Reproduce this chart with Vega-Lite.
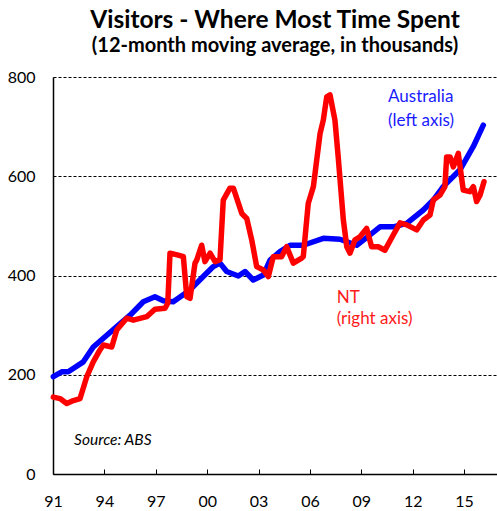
{
  "$schema": "https://vega.github.io/schema/vega-lite/v6.json",
  "width": 444,
  "height": 397,
  "autosize": "none",
  "padding": {"left": 53, "top": 77, "right": 0, "bottom": 37},
  "background": "white",
  "config": {"view": {"stroke": null}, "font": "Lato"},
  "title": {
    "text": "Visitors - Where Most Time Spent",
    "subtitle": "(12-month moving average, in thousands)",
    "font": "Lato", "fontSize": 24.5, "fontWeight": "bold", "color": "black",
    "subtitleFont": "Lato", "subtitleFontSize": 20, "subtitleFontWeight": "bold", "subtitleColor": "black",
    "anchor": "middle", "offset": 12, "subtitlePadding": 3
  },
  "layer": [
    {
      "data": {"values": [
        {"t": 1991.02, "series": "Australia", "v": 196},
        {"t": 1991.51, "series": "Australia", "v": 206},
        {"t": 1991.89, "series": "Australia", "v": 206},
        {"t": 1992.77, "series": "Australia", "v": 226},
        {"t": 1993.35, "series": "Australia", "v": 256},
        {"t": 1994.72, "series": "Australia", "v": 297},
        {"t": 1995.5, "series": "Australia", "v": 320},
        {"t": 1996.27, "series": "Australia", "v": 347},
        {"t": 1996.95, "series": "Australia", "v": 357},
        {"t": 1997.44, "series": "Australia", "v": 349},
        {"t": 1998.02, "series": "Australia", "v": 347},
        {"t": 1999.0, "series": "Australia", "v": 371},
        {"t": 1999.77, "series": "Australia", "v": 398},
        {"t": 2000.36, "series": "Australia", "v": 418},
        {"t": 2000.75, "series": "Australia", "v": 425},
        {"t": 2001.14, "series": "Australia", "v": 408},
        {"t": 2001.82, "series": "Australia", "v": 399},
        {"t": 2002.21, "series": "Australia", "v": 408},
        {"t": 2002.69, "series": "Australia", "v": 391},
        {"t": 2003.28, "series": "Australia", "v": 401},
        {"t": 2003.67, "series": "Australia", "v": 431},
        {"t": 2004.25, "series": "Australia", "v": 448},
        {"t": 2004.84, "series": "Australia", "v": 461},
        {"t": 2005.61, "series": "Australia", "v": 461},
        {"t": 2006.78, "series": "Australia", "v": 475},
        {"t": 2007.75, "series": "Australia", "v": 473},
        {"t": 2008.73, "series": "Australia", "v": 461},
        {"t": 2009.51, "series": "Australia", "v": 482},
        {"t": 2010.09, "series": "Australia", "v": 498},
        {"t": 2010.87, "series": "Australia", "v": 498},
        {"t": 2011.65, "series": "Australia", "v": 505},
        {"t": 2012.62, "series": "Australia", "v": 532},
        {"t": 2013.2, "series": "Australia", "v": 552},
        {"t": 2013.78, "series": "Australia", "v": 579},
        {"t": 2014.76, "series": "Australia", "v": 613},
        {"t": 2015.54, "series": "Australia", "v": 660},
        {"t": 2016.12, "series": "Australia", "v": 703},
        {"t": 1991.02, "series": "NT", "v": 155},
        {"t": 1991.41, "series": "NT", "v": 152},
        {"t": 1991.8, "series": "NT", "v": 142},
        {"t": 1992.19, "series": "NT", "v": 148},
        {"t": 1992.58, "series": "NT", "v": 152},
        {"t": 1992.97, "series": "NT", "v": 196},
        {"t": 1993.35, "series": "NT", "v": 226},
        {"t": 1993.74, "series": "NT", "v": 250},
        {"t": 1993.94, "series": "NT", "v": 260},
        {"t": 1994.43, "series": "NT", "v": 256},
        {"t": 1994.72, "series": "NT", "v": 290},
        {"t": 1995.3, "series": "NT", "v": 314},
        {"t": 1995.69, "series": "NT", "v": 310},
        {"t": 1996.47, "series": "NT", "v": 317},
        {"t": 1996.95, "series": "NT", "v": 332},
        {"t": 1997.54, "series": "NT", "v": 334},
        {"t": 1997.7, "series": "NT", "v": 344},
        {"t": 1997.83, "series": "NT", "v": 445},
        {"t": 1998.31, "series": "NT", "v": 441},
        {"t": 1998.61, "series": "NT", "v": 438},
        {"t": 1998.81, "series": "NT", "v": 357},
        {"t": 1999.0, "series": "NT", "v": 354},
        {"t": 1999.29, "series": "NT", "v": 425},
        {"t": 1999.39, "series": "NT", "v": 431},
        {"t": 1999.68, "series": "NT", "v": 461},
        {"t": 1999.87, "series": "NT", "v": 428},
        {"t": 2000.17, "series": "NT", "v": 445},
        {"t": 2000.46, "series": "NT", "v": 428},
        {"t": 2000.75, "series": "NT", "v": 432},
        {"t": 2000.94, "series": "NT", "v": 552},
        {"t": 2001.33, "series": "NT", "v": 576},
        {"t": 2001.53, "series": "NT", "v": 576},
        {"t": 2002.02, "series": "NT", "v": 525},
        {"t": 2002.31, "series": "NT", "v": 515},
        {"t": 2002.6, "series": "NT", "v": 472},
        {"t": 2002.89, "series": "NT", "v": 418},
        {"t": 2003.28, "series": "NT", "v": 411},
        {"t": 2003.57, "series": "NT", "v": 398},
        {"t": 2003.86, "series": "NT", "v": 438},
        {"t": 2004.35, "series": "NT", "v": 438},
        {"t": 2004.64, "series": "NT", "v": 458},
        {"t": 2005.03, "series": "NT", "v": 425},
        {"t": 2005.52, "series": "NT", "v": 435},
        {"t": 2005.61, "series": "NT", "v": 438},
        {"t": 2005.9, "series": "NT", "v": 545},
        {"t": 2006.2, "series": "NT", "v": 579},
        {"t": 2006.59, "series": "NT", "v": 686},
        {"t": 2006.78, "series": "NT", "v": 713},
        {"t": 2006.98, "series": "NT", "v": 760},
        {"t": 2007.17, "series": "NT", "v": 764},
        {"t": 2007.46, "series": "NT", "v": 713},
        {"t": 2007.65, "series": "NT", "v": 639},
        {"t": 2007.95, "series": "NT", "v": 512},
        {"t": 2008.15, "series": "NT", "v": 458},
        {"t": 2008.34, "series": "NT", "v": 445},
        {"t": 2008.63, "series": "NT", "v": 472},
        {"t": 2008.92, "series": "NT", "v": 478},
        {"t": 2009.31, "series": "NT", "v": 495},
        {"t": 2009.6, "series": "NT", "v": 458},
        {"t": 2009.99, "series": "NT", "v": 458},
        {"t": 2010.38, "series": "NT", "v": 451},
        {"t": 2010.87, "series": "NT", "v": 482},
        {"t": 2011.26, "series": "NT", "v": 506},
        {"t": 2011.65, "series": "NT", "v": 502},
        {"t": 2012.23, "series": "NT", "v": 492},
        {"t": 2012.62, "series": "NT", "v": 512},
        {"t": 2013.01, "series": "NT", "v": 522},
        {"t": 2013.2, "series": "NT", "v": 552},
        {"t": 2013.59, "series": "NT", "v": 562},
        {"t": 2013.88, "series": "NT", "v": 579},
        {"t": 2013.98, "series": "NT", "v": 639},
        {"t": 2014.18, "series": "NT", "v": 639},
        {"t": 2014.37, "series": "NT", "v": 619},
        {"t": 2014.66, "series": "NT", "v": 646},
        {"t": 2014.95, "series": "NT", "v": 572},
        {"t": 2015.34, "series": "NT", "v": 569},
        {"t": 2015.54, "series": "NT", "v": 579},
        {"t": 2015.73, "series": "NT", "v": 549},
        {"t": 2015.93, "series": "NT", "v": 562},
        {"t": 2016.16, "series": "NT", "v": 589}
      ]},
      "mark": {"type": "line", "strokeWidth": 5.5, "strokeJoin": "round", "strokeCap": "round"},
      "encoding": {
        "x": {
          "field": "t", "type": "quantitative",
          "scale": {"domain": [1991, 2016.92], "nice": false, "zero": false},
          "axis": {
            "values": [1991, 1994, 1997, 2000, 2003, 2006, 2009, 2012, 2015],
            "labelExpr": "substring(toString(datum.value), 2, 4)",
            "title": null, "grid": false,
            "domainColor": "black", "domainWidth": 1.5,
            "tickColor": "black", "tickSize": -5, "tickWidth": 1,
            "labelFont": "Lato", "labelFontSize": 16, "labelColor": "black",
            "labelPadding": 24, "labelFlush": false, "labelOverlap": false
          }
        },
        "y": {
          "field": "v", "type": "quantitative",
          "scale": {"domain": [0, 800], "nice": false},
          "axis": {
            "values": [0, 200, 400, 600, 800],
            "title": null, "grid": true,
            "gridColor": "black", "gridDash": [3, 2], "gridWidth": 1,
            "ticks": false,
            "domainColor": "black", "domainWidth": 1.5,
            "labelFont": "Lato", "labelFontSize": 16, "labelColor": "black",
            "labelPadding": 18, "labelFlush": false
          }
        },
        "color": {
          "field": "series", "type": "nominal",
          "scale": {"domain": ["Australia", "NT"], "range": ["#0000FF", "#FF0000"]},
          "legend": null
        }
      }
    },
    {
      "data": {"values": [{}]},
      "mark": {"type": "text", "text": ["Australia", "(left axis)"], "align": "left", "baseline": "top", "font": "Lato", "fontSize": 17, "lineHeight": 24, "color": "#1a1aff"},
      "encoding": {"x": {"datum": 2010.56, "type": "quantitative"}, "y": {"datum": 776, "type": "quantitative"}}
    },
    {
      "data": {"values": [{}]},
      "mark": {"type": "text", "text": ["NT", "(right axis)"], "align": "left", "baseline": "top", "font": "Lato", "fontSize": 17, "lineHeight": 21, "color": "#ff1a1a"},
      "encoding": {"x": {"datum": 2007.56, "type": "quantitative"}, "y": {"datum": 371, "type": "quantitative"}}
    },
    {
      "data": {"values": [{}]},
      "mark": {"type": "text", "text": "Source: ABS", "align": "left", "baseline": "middle", "font": "Lato", "fontSize": 15.5, "fontStyle": "italic", "color": "black"},
      "encoding": {"x": {"datum": 1992.23, "type": "quantitative"}, "y": {"datum": 68, "type": "quantitative"}}
    }
  ]
}
